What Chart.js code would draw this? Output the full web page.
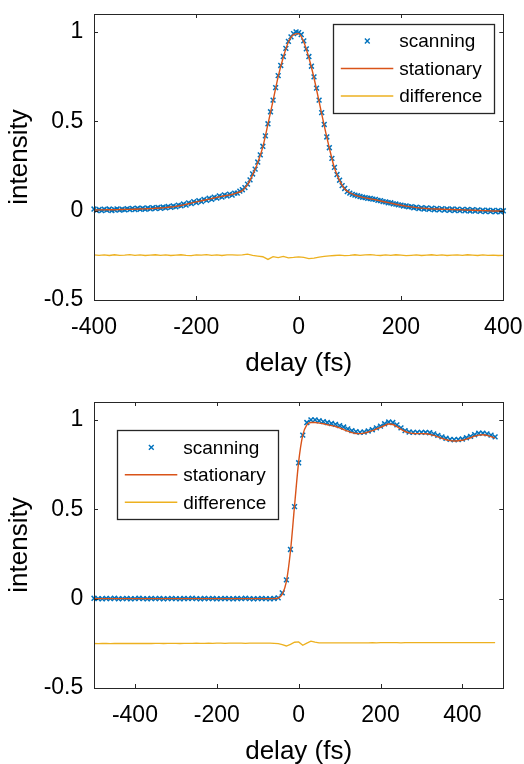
<!DOCTYPE html>
<html>
<head>
<meta charset="utf-8">
<script src="https://cdn.jsdelivr.net/npm/chart.js@4.4.0/dist/chart.umd.min.js"></script>
<style>
  html, body { margin: 0; padding: 0; background: #fff; overflow: hidden; width: 524px; height: 764px; }
  canvas { position: absolute; left: 0; }
  #top { top: 0; }
  #bottom { top: 388px; }
</style>
</head>
<body>
<canvas id="top" width="524" height="382"></canvas>
<canvas id="bottom" width="524" height="382"></canvas>
<script>
// ---- top panel (autocorrelation-like peak) ----
var topScanDelay = [
  -400,-395,-390,-385,-380,-375,-370,-365,-360,-355,-350,-345,-340,-335,-330,-325,-320,-315,-310,-305,
  -300,-295,-290,-285,-280,-275,-270,-265,-260,-255,-250,-245,-240,-235,-230,-225,-220,-215,-210,-205,
  -200,-195,-190,-185,-180,-175,-170,-165,-160,-155,-150,-145,-140,-135,-130,-125,-120,-115,-110,-105,
  -100,-95,-90,-85,-80,-75,-70,-65,-60,-55,-50,-45,-40,-35,-30,-25,-20,-15,-10,-5,
  0,5,10,15,20,25,30,35,40,45,50,55,60,65,70,75,80,85,90,95,
  100,105,110,115,120,125,130,135,140,145,150,155,160,165,170,175,180,185,190,195,
  200,205,210,215,220,225,230,235,240,245,250,255,260,265,270,275,280,285,290,295,
  300,305,310,315,320,325,330,335,340,345,350,355,360,365,370,375,380,385,390,395,
  400
];
var topScan = [
  0.009,0.001,0.006,0.000,0.008,0.003,0.009,0.001,0.005,0.010,0.003,0.008,0.004,0.011,0.006,0.012,0.006,0.013,0.008,0.014,
  0.008,0.015,0.010,0.017,0.012,0.018,0.013,0.020,0.016,0.023,0.018,0.026,0.021,0.031,0.027,0.037,0.031,0.043,0.039,0.050,
  0.045,0.056,0.051,0.063,0.057,0.069,0.063,0.075,0.070,0.082,0.076,0.088,0.082,0.092,0.087,0.098,0.098,0.109,0.117,0.129,
  0.148,0.172,0.205,0.232,0.272,0.312,0.360,0.418,0.486,0.553,0.618,0.688,0.755,0.812,0.862,0.908,0.947,0.972,0.990,1.000,
  0.996,0.985,0.950,0.905,0.862,0.808,0.748,0.685,0.618,0.548,0.482,0.412,0.352,0.292,0.242,0.202,0.170,0.140,0.124,0.106,
  0.098,0.091,0.087,0.083,0.079,0.075,0.073,0.069,0.068,0.064,0.063,0.057,0.056,0.050,0.049,0.044,0.044,0.038,0.037,0.032,
  0.031,0.026,0.026,0.021,0.022,0.016,0.019,0.011,0.016,0.009,0.015,0.007,0.013,0.005,0.012,0.004,0.011,0.003,0.010,0.002,
  0.009,0.001,0.008,0.000,0.007,-0.001,0.006,-0.002,0.005,-0.003,0.004,-0.004,0.003,-0.005,0.002,-0.005,0.001,-0.006,0.001,-0.006,
  -0.001
];
var topStatDelay = [
  -400,-390,-380,-370,-360,-350,-340,-330,-320,-310,-300,-290,-280,-270,-260,-250,-240,-230,-220,-210,
  -200,-190,-180,-170,-160,-150,-140,-130,-120,-110,-100,-90,-80,-70,-60,-50,-40,-30,-20,-10,
  0,10,20,30,40,50,60,70,80,90,100,110,120,130,140,150,160,170,180,190,
  200,210,220,230,240,250,260,270,280,290,300,310,320,330,340,350,360,370,380,390,
  400
];
var topStat = [
  0.003,0.004,0.004,0.005,0.005,0.006,0.007,0.007,0.008,0.009,0.010,0.011,0.013,0.015,0.017,0.020,0.024,0.029,0.035,0.042,
  0.049,0.055,0.061,0.067,0.074,0.080,0.085,0.090,0.100,0.112,0.145,0.200,0.268,0.357,0.484,0.615,0.750,0.858,0.943,0.985,
  0.990,0.943,0.855,0.742,0.610,0.475,0.350,0.238,0.168,0.121,0.100,0.087,0.078,0.071,0.066,0.061,0.054,0.048,0.042,0.036,
  0.030,0.025,0.021,0.017,0.014,0.012,0.010,0.009,0.008,0.007,0.006,0.005,0.004,0.003,0.002,0.001,0.000,-0.001,-0.002,-0.002,
  -0.003
];
var topDiff = [
  -0.247,-0.250,-0.248,-0.251,-0.247,-0.250,-0.249,-0.246,-0.250,-0.248,-0.251,-0.249,-0.247,-0.250,-0.248,-0.251,-0.249,-0.247,-0.250,-0.252,
  -0.248,-0.249,-0.246,-0.250,-0.248,-0.251,-0.248,-0.247,-0.249,-0.248,-0.243,-0.250,-0.254,-0.258,-0.273,-0.257,-0.263,-0.256,-0.264,-0.262,
  -0.259,-0.262,-0.268,-0.266,-0.260,-0.256,-0.253,-0.251,-0.249,-0.252,-0.250,-0.247,-0.250,-0.248,-0.246,-0.249,-0.251,-0.248,-0.250,-0.247,
  -0.249,-0.252,-0.250,-0.248,-0.251,-0.249,-0.247,-0.250,-0.248,-0.251,-0.249,-0.248,-0.250,-0.247,-0.249,-0.251,-0.248,-0.250,-0.249,-0.251,
  -0.250
];

// ---- bottom panel (step + oscillation) ----
var botDelay = [
  -500,-490,-480,-470,-460,-450,-440,-430,-420,-410,-400,-390,-380,-370,-360,-350,-340,-330,-320,-310,
  -300,-290,-280,-270,-260,-250,-240,-230,-220,-210,-200,-190,-180,-170,-160,-150,-140,-130,-120,-110,
  -100,-90,-80,-70,-60,-50,-40,-30,-20,-10,0,10,20,30,40,50,60,70,80,90,
  100,110,120,130,140,150,160,170,180,190,200,210,220,230,240,250,260,270,280,290,
  300,310,320,330,340,350,360,370,380,390,400,410,420,430,440,450,460,470,480
];
var botScan = [
  0.002,0.000,-0.001,0.001,0.000,0.002,-0.001,0.000,0.001,-0.001,0.000,0.002,0.000,-0.001,0.001,0.000,0.001,-0.001,0.000,0.001,
  0.000,-0.001,0.001,0.000,0.002,0.000,-0.001,0.001,0.000,0.001,-0.001,0.000,0.001,0.000,-0.001,0.001,0.000,0.002,0.000,-0.001,
  0.000,0.001,0.000,-0.001,0.001,0.004,0.032,0.105,0.275,0.515,0.760,0.915,0.985,1.000,1.000,0.995,0.990,0.985,0.980,0.975,
  0.968,0.960,0.950,0.940,0.934,0.930,0.932,0.938,0.945,0.955,0.965,0.978,0.988,0.985,0.972,0.955,0.940,0.932,0.930,0.930,
  0.930,0.930,0.928,0.922,0.913,0.905,0.897,0.891,0.889,0.890,0.893,0.900,0.908,0.917,0.925,0.926,0.922,0.915,0.905
];
var botStat = [
  0,0,0,0,0,0,0,0,0,0,0,0,0,0,0,0,0,0,0,0,
  0,0,0,0,0,0,0,0,0,0,0,0,0,0,0,0,0,0,0,0,
  0.000,0.000,0.000,0.000,0.000,0.003,0.025,0.095,0.265,0.520,0.765,0.915,0.972,0.985,0.985,0.982,0.978,0.973,0.968,0.963,
  0.955,0.946,0.937,0.929,0.924,0.923,0.926,0.932,0.940,0.949,0.958,0.968,0.977,0.974,0.962,0.948,0.935,0.927,0.924,0.923,
  0.923,0.922,0.919,0.913,0.905,0.897,0.889,0.884,0.882,0.883,0.886,0.892,0.900,0.909,0.915,0.917,0.913,0.906,0.898
];
var botDiff = [
  -0.251,-0.252,-0.251,-0.251,-0.252,-0.251,-0.251,-0.250,-0.251,-0.251,-0.250,-0.251,-0.251,-0.250,-0.251,-0.250,-0.250,-0.251,-0.250,-0.250,
  -0.250,-0.251,-0.250,-0.250,-0.250,-0.249,-0.250,-0.250,-0.249,-0.250,-0.249,-0.249,-0.250,-0.249,-0.249,-0.249,-0.249,-0.250,-0.249,-0.249,
  -0.249,-0.249,-0.249,-0.249,-0.250,-0.252,-0.258,-0.265,-0.256,-0.244,-0.242,-0.261,-0.249,-0.238,-0.243,-0.247,-0.248,-0.248,-0.247,-0.248,
  -0.248,-0.247,-0.247,-0.247,-0.247,-0.248,-0.247,-0.247,-0.246,-0.247,-0.246,-0.246,-0.246,-0.246,-0.246,-0.247,-0.246,-0.246,-0.246,-0.246,
  -0.246,-0.246,-0.246,-0.246,-0.246,-0.246,-0.246,-0.246,-0.246,-0.246,-0.246,-0.246,-0.246,-0.246,-0.246,-0.246,-0.246,-0.246,-0.246
];

var xTicks = [-400, -200, 0, 200, 400];
var yTicks = [-0.5, 0, 0.5, 1];
var seriesNames = ['scanning', 'stationary', 'difference'];

var BLUE = '#0072BD', RED = '#D95319', YELLOW = '#EDB120', INK = '#262626';
var FONT = '"Liberation Sans", Arial, Helvetica, sans-serif';

function pts(xs, ys) {
  return xs.map(function(x, i) { return { x: x, y: ys[i] }; });
}

// matlab style box with inward ticks on all four sides
var boxPlugin = {
  id: 'matbox',
  afterDatasetsDraw: function(chart) {
    var a = chart.chartArea, ctx = chart.ctx;
    var sx = chart.scales.x, sy = chart.scales.y, tl = 4;
    ctx.save();
    ctx.strokeStyle = INK;
    ctx.lineWidth = 1;
    ctx.beginPath();
    sx.ticks.forEach(function(t) {
      var p = Math.round(sx.getPixelForValue(t.value)) + 0.5;
      ctx.moveTo(p, a.bottom); ctx.lineTo(p, a.bottom - tl);
      ctx.moveTo(p, a.top); ctx.lineTo(p, a.top + tl);
    });
    sy.ticks.forEach(function(t) {
      var p = Math.round(sy.getPixelForValue(t.value)) + 0.5;
      ctx.moveTo(a.left, p); ctx.lineTo(a.left + tl, p);
      ctx.moveTo(a.right, p); ctx.lineTo(a.right - tl, p);
    });
    ctx.stroke();
    ctx.strokeRect(Math.round(a.left) + 0.5, Math.round(a.top) + 0.5,
      Math.round(a.right - a.left), Math.round(a.bottom - a.top));
    ctx.restore();
  }
};

// legend drawn inside the axes
var boxLegend = {
  id: 'boxLegend',
  afterDraw: function(chart, args, o) {
    var a = chart.chartArea, ctx = chart.ctx;
    var w = 161, h = 89;
    var left = o.fromRight != null ? a.right - o.fromRight - w : a.left + o.fromLeft;
    var top = a.top + o.fromTop;
    ctx.save();
    ctx.fillStyle = '#fff';
    ctx.fillRect(left, top, w, h);
    ctx.strokeStyle = INK;
    ctx.lineWidth = 1.3;
    ctx.strokeRect(Math.round(left) + 0.5, Math.round(top) + 0.5, w, h);
    var rows = [17, 44.5, 72];
    chart.data.datasets.forEach(function(ds, i) {
      var y = top + rows[i];
      ctx.strokeStyle = ds.borderColor;
      ctx.lineWidth = 1.4;
      ctx.beginPath();
      if (i === 0) {
        var cx = left + 34, r = 2.4;
        ctx.moveTo(cx - r, y - r); ctx.lineTo(cx + r, y + r);
        ctx.moveTo(cx - r, y + r); ctx.lineTo(cx + r, y - r);
      } else {
        ctx.moveTo(left + 7.5, y); ctx.lineTo(left + 60, y);
      }
      ctx.stroke();
      ctx.fillStyle = '#000';
      ctx.font = '19px ' + FONT;
      ctx.textBaseline = 'middle';
      ctx.textAlign = 'left';
      ctx.fillText(ds.label, left + 66, y + 1);
    });
    ctx.restore();
  }
};

function makeChart(id, xmin, xmax, scanX, scanY, statX, statY, diffY, legendPos) {
  return new Chart(document.getElementById(id), {
    type: 'scatter',
    data: {
      datasets: [{
        label: seriesNames[0],
        data: pts(scanX, scanY),
        showLine: false,
        pointStyle: 'crossRot',
        pointRadius: 3.4,
        pointBorderWidth: 1.5,
        borderColor: BLUE,
        backgroundColor: BLUE,
        clip: false,
        order: 3
      }, {
        label: seriesNames[1],
        data: pts(statX, statY),
        showLine: true,
        pointRadius: 0,
        borderWidth: 1.4,
        borderColor: RED,
        cubicInterpolationMode: 'monotone',
        order: 2
      }, {
        label: seriesNames[2],
        data: pts(statX, diffY),
        showLine: true,
        pointRadius: 0,
        borderWidth: 1.3,
        borderColor: YELLOW,
        order: 1
      }]
    },
    options: {
      responsive: false,
      animation: false,
      devicePixelRatio: 1,
      layout: { padding: { left: 0, top: 14, right: 20.7, bottom: 0 } },
      plugins: {
        legend: { display: false },
        tooltip: { enabled: false },
        boxLegend: legendPos
      },
      scales: {
        x: {
          type: 'linear',
          min: xmin,
          max: xmax,
          afterBuildTicks: function(s) { s.ticks = xTicks.map(function(v) { return { value: v }; }); },
          afterFit: function(s) { s.height = 82; s.paddingLeft = 0; s.paddingRight = 0; },
          grid: { display: false, drawTicks: false },
          border: { display: false },
          ticks: {
            color: '#000', padding: 13.6, maxRotation: 0, autoSkip: false,
            font: { family: FONT, size: 23 },
            callback: function(v) { return String(v); }
          },
          title: {
            display: true, text: 'delay (fs)', color: '#000',
            font: { family: FONT, size: 26 },
            padding: { top: 0, bottom: 2.7 }
          }
        },
        y: {
          min: -0.5,
          max: 1.1,
          afterBuildTicks: function(s) { s.ticks = yTicks.map(function(v) { return { value: v }; }); },
          afterFit: function(s) { s.width = 94; s.paddingTop = 0; s.paddingBottom = 0; },
          grid: { display: false, drawTicks: false },
          border: { display: false },
          ticks: {
            color: '#000', padding: 10.7,
            font: { family: FONT, size: 23 },
            callback: function(v) { return String(v); }
          },
          title: {
            display: true, text: 'intensity', color: '#000',
            font: { family: FONT, size: 26 },
            padding: { top: 4.7, bottom: 0 }
          }
        }
      }
    },
    plugins: [boxPlugin, boxLegend]
  });
}

makeChart('top', -400, 400, topScanDelay, topScan, topStatDelay, topStat, topDiff,
  { fromRight: 9, fromTop: 10 });
makeChart('bottom', -500, 500, botDelay, botScan, botDelay, botStat, botDiff,
  { fromLeft: 23.3, fromTop: 28.3 });
</script>
</body>
</html>
